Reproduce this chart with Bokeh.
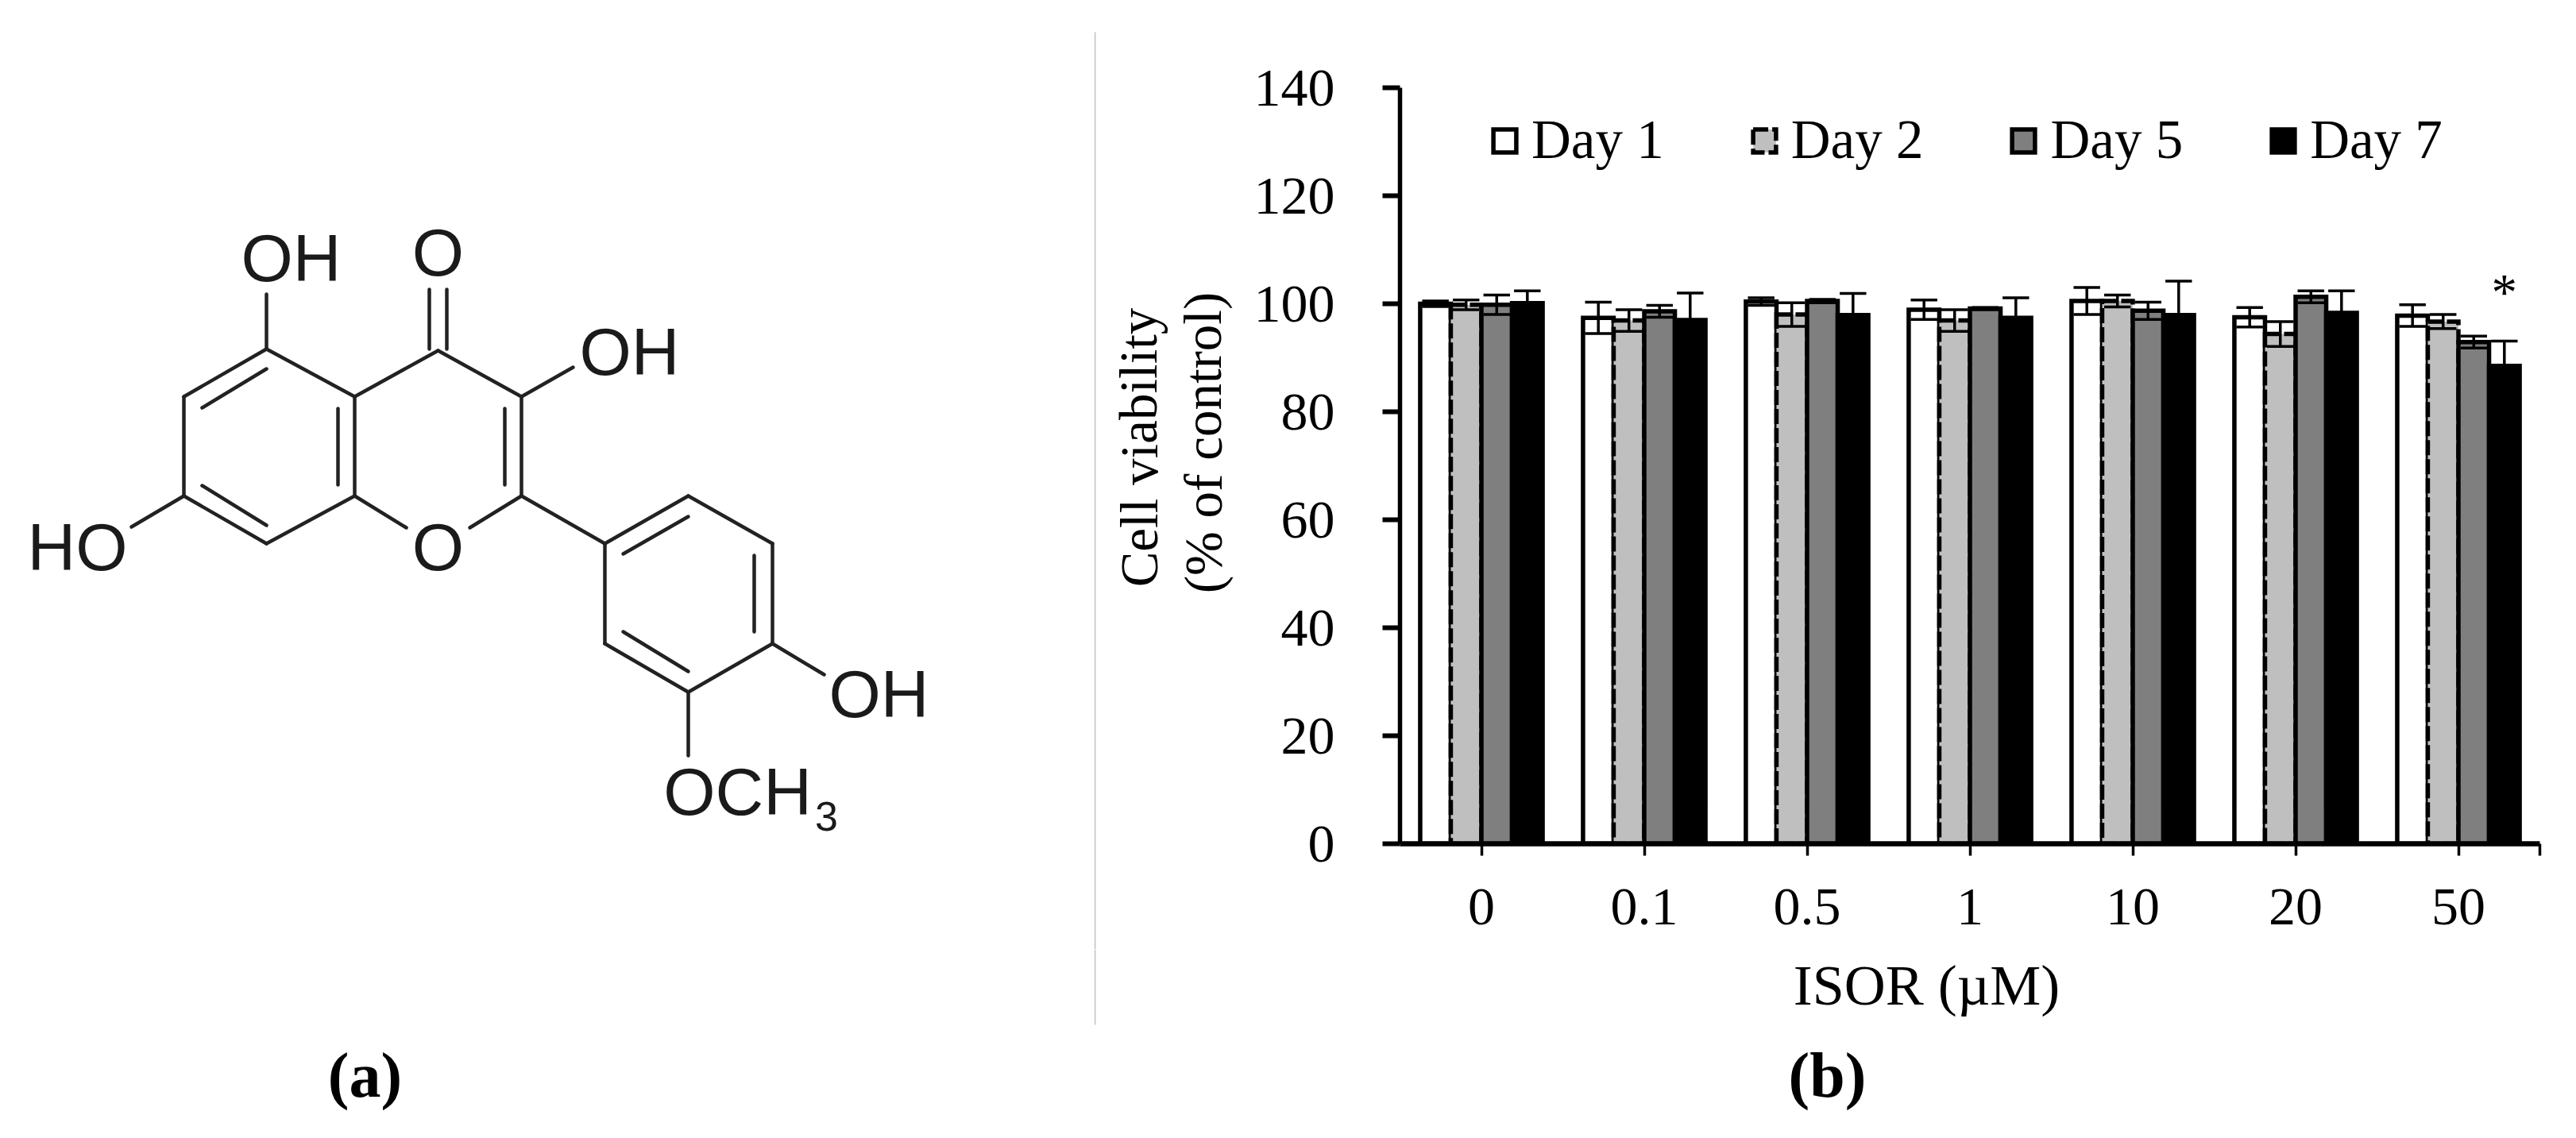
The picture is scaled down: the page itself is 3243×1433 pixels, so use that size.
from bokeh.plotting import figure
from bokeh.layouts import row, column
from bokeh.models import Range1d, FixedTicker, Legend, LegendItem
from bokeh.core.properties import value
from bokeh.embed import file_html
from bokeh.resources import INLINE

# ---------- chart data ----------
concentrations = ["0", "0.1", "0.5", "1", "10", "20", "50"]
series_names = ["Day 1", "Day 2", "Day 5", "Day 7"]
day1_mean = [100.0, 97.4, 100.4, 98.9, 100.5, 97.5, 97.8]
day2_mean = [99.8, 96.9, 98.0, 96.9, 100.5, 94.4, 96.7]
day5_mean = [99.8, 98.6, 100.5, 99.1, 98.7, 101.3, 92.9]
day7_mean = [100.1, 97.0, 97.9, 97.4, 97.9, 98.3, 88.5]
day1_err = [0.5, 2.9, 0.7, 1.8, 2.5, 1.8, 2.0]
day2_err = [0.9, 2.0, 2.2, 2.0, 1.1, 2.3, 1.3]
day5_err = [1.8, 1.1, 0.3, 0.2, 1.6, 1.1, 1.1]
day7_err = [2.3, 5.0, 4.0, 3.7, 6.3, 4.1, 4.6]
y_ticks = [0, 20, 40, 60, 80, 100, 120, 140]

means = [day1_mean, day2_mean, day5_mean, day7_mean]
errs = [day1_err, day2_err, day5_err, day7_err]
fills = ["#FFFFFF", "#BFBFBF", "#7F7F7F", "#000000"]
dashes = ["solid", "19 5", "solid", "solid"]

# ---------- molecule drawing (page coordinates) ----------
bonds = [
    ((335, 439), (231, 499)), ((231, 499), (231, 624)), ((231, 624), (335, 684)),
    ((335, 684), (446, 624)), ((446, 624), (446, 499)), ((446, 499), (335, 439)),
    ((446, 499), (551, 441)), ((551, 441), (656, 499)), ((656, 499), (656, 624)),
    ((656, 624), (591, 664)), ((446, 624), (511, 664)),
    ((335, 464), (254, 513)), ((254, 611), (335, 661)),
    ((425, 514), (425, 610)), ((635, 514), (635, 610)),
    ((540, 364), (540, 439)), ((562, 364), (562, 439)),
    ((335, 370), (335, 439)), ((656, 499), (721, 462)), ((231, 624), (165, 663)),
    ((656, 624), (761, 684)), ((761, 684), (866, 624)), ((866, 624), (972, 684)),
    ((972, 684), (972, 810)), ((972, 810), (866, 871)), ((866, 871), (761, 810)),
    ((761, 810), (761, 684)),
    ((784, 697), (866, 650)), ((949, 699), (949, 795)), ((784, 795), (866, 845)),
    ((972, 810), (1037, 849)), ((866, 871), (866, 951)),
]
atom_text = ["OH", "O", "OH", "HO", "O", "OH", "OCH", "3"]
atom_x = [366, 551, 792, 97, 551, 1106, 928, 1040]
atom_y = [324, 317, 442, 688, 688, 873, 996, 1027]
atom_size = ["84px", "84px", "84px", "84px", "84px", "84px", "84px", "52px"]


def blank(width, height, x0, x1, y0, y1):
    f = figure(width=width, height=height, x_range=Range1d(x0, x1), y_range=Range1d(y1, y0),
               x_axis_location=None, y_axis_location=None, toolbar_location=None,
               output_backend="svg", min_border=0, outline_line_color=None, frame_align=False)
    f.grid.visible = False
    return f


SERIF = value("Liberation Serif")

left = blank(1377, 1417, 0, 1377, 0, 1417)
left.segment([b[0][0] for b in bonds], [b[0][1] for b in bonds],
             [b[1][0] for b in bonds], [b[1][1] for b in bonds],
             line_color="#222222", line_width=4.5, line_cap="round")
left.text(atom_x, atom_y, text=atom_text, text_font=value("Liberation Sans"),
          text_font_size=atom_size, text_align="center", text_baseline="middle",
          text_color="#1a1a1a")
left.text([459], [1353], text=["(a)"], text_font=SERIF, text_font_size="80px",
          text_font_style="bold", text_align="center", text_baseline="middle",
          text_color="#000000")

# rotated y title, in its own strip next to the chart
ytitle = blank(198, 1195, 1377, 1575, 0, 1195)
ytitle.segment([1378], [40], [1378], [1195], line_color="#c8c8c8", line_width=2)
ytitle.text([1433, 1514], [563, 557], text=["Cell viability", "(% of control)"],
            text_font=SERIF, text_font_size="67px", angle=1.5708, text_align="center",
            text_baseline="alphabetic", text_color="#000000")

# strip under the chart
under = blank(1853, 222, 1377, 3230, 1195, 1417)
under.segment([1378], [1195], [1378], [1290], line_color="#c8c8c8", line_width=2)
under.text([2425, 2300], [1240, 1353], text=["ISOR (\u00b5M)", "(b)"], text_font=SERIF,
           text_font_size=["72px", "80px"], text_font_style=["normal", "bold"],
           text_align="center", text_baseline="middle", text_color="#000000")

# ---------- bar chart ----------
BAR = 0.188
CAP = 0.163
chart = figure(width=1655, height=1195, x_range=Range1d(0, 7), y_range=Range1d(0, 140),
               toolbar_location=None, output_backend="svg", frame_align=False,
               min_border_left=187, min_border_right=33, min_border_top=110,
               min_border_bottom=133, outline_line_color=None)
chart.grid.visible = False

legend_items = []
for k, (m, e) in enumerate(zip(means, errs)):
    xs = [i + 0.5 + (k - 1.5) * BAR for i in range(len(concentrations))]
    r = chart.vbar(x=xs, top=m, bottom=0, width=BAR, fill_color=fills[k],
                   line_color="#000000", line_width=5.5, line_dash=dashes[k],
                   line_join="miter")
    up = [a + b for a, b in zip(m, e)]
    lo = [a - b for a, b in zip(m, e)]
    chart.segment(xs, lo, xs, up, line_color="#000000", line_width=3.5)
    cap_l = [x - CAP / 2 for x in xs]
    cap_r = [x + CAP / 2 for x in xs]
    chart.segment(cap_l, up, cap_r, up, line_color="#000000", line_width=3.5)
    chart.segment(cap_l, lo, cap_r, lo, line_color="#000000", line_width=3.5)
    legend_items.append(LegendItem(label=series_names[k], renderers=[r]))

chart.text([6.5 + 1.5 * BAR], [102.2], text=["*"], text_font=SERIF,
           text_font_size="65px", text_align="center", text_baseline="alphabetic",
           text_color="#000000")

legend = Legend(items=legend_items, orientation="horizontal", location=(114, 846),
                glyph_width=36, glyph_height=36, label_standoff=16, spacing=108,
                padding=0, margin=0, border_line_color=None, background_fill_alpha=0,
                label_text_font="Liberation Serif", label_text_font_size="69px",
                label_text_color="#000000")
chart.add_layout(legend, "center")

for ax in chart.xaxis:
    ax.ticker = FixedTicker(ticks=[i + 0.5 for i in range(7)] + [7])
    ax.major_label_overrides = {**{i + 0.5: c for i, c in enumerate(concentrations)}, 7: ""}
    ax.axis_line_width = 6.5
    ax.major_tick_line_width = 3.5
    ax.major_tick_out = 15
    ax.major_tick_in = 0
    ax.minor_tick_out = 0
    ax.minor_tick_in = 0
    ax.major_label_standoff = 42
    ax.major_label_text_font = "Liberation Serif"
    ax.major_label_text_font_size = "68px"
    ax.major_label_text_color = "#000000"
for ax in chart.yaxis:
    ax.ticker = FixedTicker(ticks=y_ticks)
    ax.axis_line_width = 5.5
    ax.major_tick_line_width = 6
    ax.major_tick_out = 22
    ax.major_tick_in = 0
    ax.minor_tick_out = 0
    ax.minor_tick_in = 0
    ax.major_label_standoff = 60
    ax.major_label_text_font = "Liberation Serif"
    ax.major_label_text_font_size = "68px"
    ax.major_label_text_color = "#000000"

page = row(left, column(row(ytitle, chart, spacing=0), under, spacing=0), spacing=0)
open("out.html", "w").write(file_html(page, INLINE))
